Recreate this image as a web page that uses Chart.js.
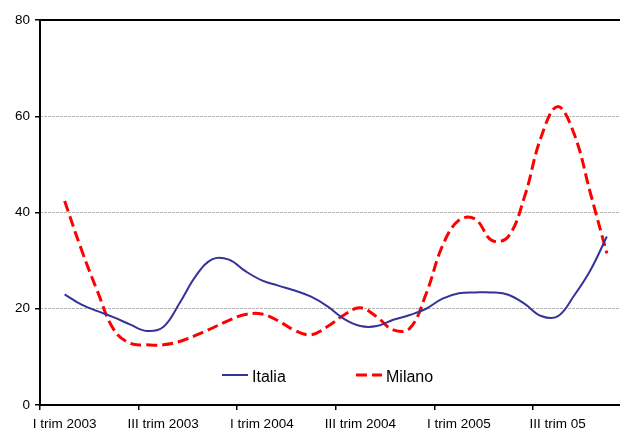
<!DOCTYPE html>
<html>
<head>
<meta charset="utf-8">
<script src="https://cdn.jsdelivr.net/npm/chart.js@4.4.1/dist/chart.umd.min.js"></script>
<style>
  html, body { margin: 0; padding: 0; background: #fff; overflow: hidden; }
</style>
</head>
<body>
<canvas id="line-chartcanvas" width="620" height="430"></canvas>
<script>

// months from feb 2003 to nov 2005 (one value per month)
var months = [
    "feb 2003", "mar 2003", "apr 2003", "mag 2003", "giu 2003", "lug 2003",
    "ago 2003", "set 2003", "ott 2003", "nov 2003", "dic 2003",
    "gen 2004", "feb 2004", "mar 2004", "apr 2004", "mag 2004", "giu 2004",
    "lug 2004", "ago 2004", "set 2004", "ott 2004", "nov 2004", "dic 2004",
    "gen 2005", "feb 2005", "mar 2005", "apr 2005", "mag 2005", "giu 2005",
    "lug 2005", "ago 2005", "set 2005", "ott 2005", "nov 2005"
];

var tickLabels = ["I trim 2003", "III trim 2003", "I trim 2004", "III trim 2004", "I trim 2005", "III trim 05"];

var italia = [
    23.0, 20.9, 19.5, 18.2, 16.7, 15.4, 16.2, 21.2, 26.9, 30.3, 30.2,
    27.8, 25.9, 24.8, 23.8, 22.5, 20.5, 17.9, 16.4, 16.4, 17.7, 18.7, 20.0,
    22.1, 23.2, 23.4, 23.4, 22.9, 21.0, 18.5, 18.4, 22.7, 28.0, 35.0
];

var milano = [
    42.4, 32.5, 23.6, 15.6, 12.8, 12.5, 12.5, 13.2, 14.5, 16.0, 17.6,
    18.8, 18.9, 17.5, 15.5, 14.6, 16.3, 18.7, 20.2, 18.3, 15.6, 15.9, 23.1,
    33.1, 38.4, 38.6, 34.2, 35.0, 43.4, 55.7, 62.0, 56.4, 44.0, 31.5
];

var yTicks = [0, 20, 40, 60, 80];

// x is counted in months from jan 2003, each value sits mid-month
function toPoints(values) {
    return values.map(function (v, i) {
        return { x: i + 1.5, y: v };
    });
}

var legendInside = {
    id: "legendInside",
    afterDatasetsDraw: function (chart) {
        var ctx = chart.ctx;
        var area = chart.chartArea;
        var x = area.left + 182;
        var y = area.bottom - 30;
        ctx.save();
        chart.data.datasets.forEach(function (ds) {
            ctx.beginPath();
            ctx.strokeStyle = ds.borderColor;
            ctx.lineWidth = ds.borderWidth;
            ctx.setLineDash(ds.borderDash || []);
            ctx.moveTo(x, y);
            ctx.lineTo(x + 26, y);
            ctx.stroke();
            ctx.setLineDash([]);
            ctx.fillStyle = "#000";
            ctx.font = "16px 'Liberation Sans', Arial, sans-serif";
            ctx.textBaseline = "middle";
            ctx.fillText(ds.label, x + 30, y + 2.5);
            x += 134;
        });
        ctx.restore();
    }
};

var ctx1 = document.getElementById("line-chartcanvas");

var data1 = {
    datasets: [
        {
            label: "Italia",
            data: toPoints(italia),
            borderColor: "#333399",
            borderWidth: 2,
            pointRadius: 0,
            tension: 0.4,
            fill: false
        },
        {
            label: "Milano",
            data: toPoints(milano),
            borderColor: "#ff0000",
            borderWidth: 3,
            borderDash: [11, 5],
            pointRadius: 0,
            tension: 0.4,
            fill: false
        }
    ]
};

var font13 = { family: "'Liberation Sans', Arial, sans-serif", size: 13.5 };

var options = {
    responsive: false,
    animation: false,
    layout: { padding: { top: 20, left: 0, right: 0, bottom: 0 } },
    plugins: {
        legend: { display: false },
        tooltip: { enabled: false },
        title: { display: false }
    },
    scales: {
        x: {
            type: "linear",
            min: 0,
            max: 35.3,
            afterBuildTicks: function (scale) {
                scale.ticks = tickLabels.map(function (t, i) { return { value: i * 6 }; });
            },
            afterFit: function (scale) { scale.height = 25; },
            ticks: {
                autoSkip: false,
                maxRotation: 0,
                labelOffset: 24.6,
                padding: 6,
                color: "#000",
                font: font13,
                callback: function (v, i) { return tickLabels[i]; }
            },
            grid: {
                drawOnChartArea: false,
                drawTicks: true,
                tickLength: 5,
                tickColor: "#000",
                lineWidth: 1.5
            },
            border: { display: true, color: "#000", width: 2 }
        },
        y: {
            min: 0,
            max: 80,
            afterBuildTicks: function (scale) {
                scale.ticks = yTicks.map(function (v) { return { value: v }; });
            },
            afterFit: function (scale) { scale.width = 40; },
            ticks: {
                padding: 5,
                color: "#000",
                font: font13
            },
            grid: {
                drawOnChartArea: false,
                drawTicks: true,
                tickLength: 5,
                tickColor: "#000",
                lineWidth: 1.5
            },
            border: { display: true, color: "#000", width: 2 }
        },
        yGrid: {
            position: "right",
            min: 0,
            max: 80,
            afterBuildTicks: function (scale) {
                scale.ticks = yTicks.map(function (v) { return { value: v }; });
            },
            afterFit: function (scale) { scale.width = 0; },
            ticks: { display: false },
            grid: {
                drawTicks: false,
                color: function (c) {
                    if (c.tick.value === 0) return "rgba(0,0,0,0)";
                    return c.tick.value === 80 ? "#000" : "#b4b4b4";
                },
                lineWidth: function (c) { return c.tick.value === 80 ? 2 : 1; }
            },
            border: {
                display: false,
                dash: function (c) { return c.tick && c.tick.value === 80 ? [] : [3, 1]; }
            }
        }
    }
};

var chart1 = new Chart(ctx1, {
    type: "line",
    data: data1,
    options: options,
    plugins: [legendInside]
});

</script>
</body>
</html>
